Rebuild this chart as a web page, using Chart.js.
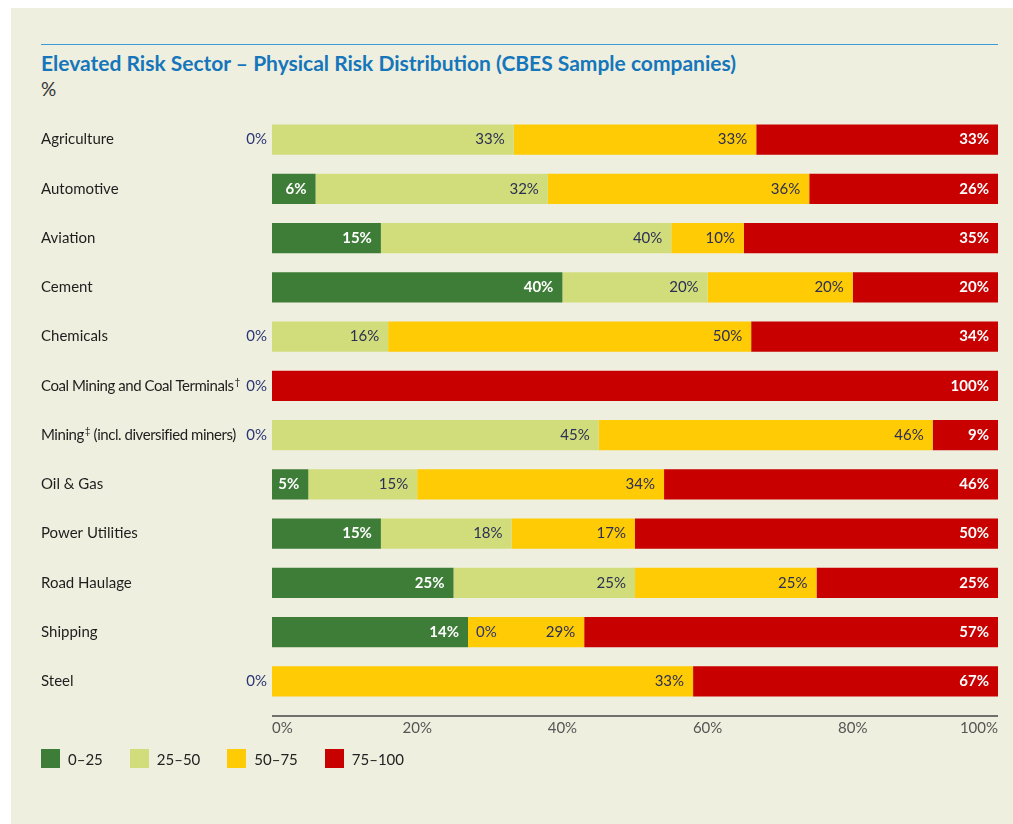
<!DOCTYPE html>
<html>
<head>
<meta charset="utf-8">
<script src="https://cdn.jsdelivr.net/npm/chart.js@4"></script>
<style>
  html, body { margin: 0; padding: 0; background: #ffffff; }
  body { width: 1013px; height: 824px; position: relative; overflow: hidden; font-family: Lato, "Open Sans", sans-serif; }
  #panel { position: absolute; left: 11px; top: 8px; right: 0; bottom: 0; background: #efefdf; }
  #rule { position: absolute; left: 41px; top: 44px; width: 957px; height: 0; border-top: 1.5px solid #3d9bd3; }
  #title { position: absolute; left: 41px; top: 50px; font-size: 21px; font-weight: bold; color: #1576bb; white-space: nowrap; }
  #unit { position: absolute; left: 41px; top: 77px; font-size: 19px; color: #333; }
  #chart { position: absolute; left: 0; top: 0; }
  #legend { position: absolute; left: 41px; top: 749px; display: flex; font-size: 15px; color: #222; }
  #legend .item { display: flex; align-items: center; margin-right: 27px; }
  #legend .box { width: 19px; height: 19px; margin-right: 8px; }
</style>
</head>
<body>
<div id="panel"></div>
<div id="rule"></div>
<div id="title">Elevated Risk Sector – Physical Risk Distribution (CBES Sample companies)</div>
<div id="unit">%</div>
<canvas id="chart" width="1013" height="824"></canvas>
<div id="legend"></div>
<script>
// sectors, top to bottom
var sectors = ['Agriculture', 'Automotive', 'Aviation', 'Cement', 'Chemicals',
  'Coal Mining and Coal Terminals', 'Mining (incl. diversified miners)',
  'Oil & Gas', 'Power Utilities', 'Road Haulage', 'Shipping', 'Steel'];
// footnote marks: [sector index, position in name, mark]
var footnotes = [[5, 30, '\u2020'], [6, 6, '\u2021']];

var bandNames = ['0\u201325', '25\u201350', '50\u201375', '75\u2013100'];
var bandColors = ['#3e7d38', '#d1dd7b', '#ffcb05', '#c80000'];

// segment widths as drawn (share of companies, %)
var share0to25   = [0, 6, 15, 40, 0, 0, 0, 5, 15, 25, 27, 0];
var share25to50  = [33.3, 32, 40, 20, 16, 0, 45, 15, 18, 25, 0, 0];
var share50to75  = [33.4, 36, 10, 20, 50, 0, 46, 34, 17, 25, 16, 58];
var share75to100 = [33.3, 26, 35, 20, 34, 100, 9, 46, 50, 25, 57, 42];

// labels printed on the segments
var printed0to25   = [0, 6, 15, 40, 0, 0, 0, 5, 15, 25, 14, 0];
var printed25to50  = [33, 32, 40, 20, 16, 0, 45, 15, 18, 25, 0, 0];
var printed50to75  = [33, 36, 10, 20, 50, 0, 46, 34, 17, 25, 29, 33];
var printed75to100 = [33, 26, 35, 20, 34, 100, 9, 46, 50, 25, 57, 67];

var xTicks = [0, 20, 40, 60, 80, 100];

var shares = [share0to25, share25to50, share50to75, share75to100];
var printed = [printed0to25, printed25to50, printed50to75, printed75to100];
var lightText = [true, false, false, true];

var FONT = 'Lato, "Open Sans", sans-serif';

// legend (html, under the axis)
var legendEl = document.getElementById('legend');
bandNames.forEach(function (name, i) {
  var item = document.createElement('div');
  item.className = 'item';
  item.innerHTML = '<span class="box" style="background:' + bandColors[i] + '"></span>' + name;
  legendEl.appendChild(item);
});

function drawSectorLabels(chart) {
  var ctx = chart.ctx;
  var ys = chart.scales.y;
  ctx.save();
  ctx.textBaseline = 'middle';
  ctx.textAlign = 'left';
  ctx.fillStyle = '#1e1e1e';
  sectors.forEach(function (name, j) {
    var y = ys.getPixelForValue(j);
    var note = footnotes.filter(function (f) { return f[0] === j; })[0];
    ctx.font = '15px ' + FONT;
    ctx.letterSpacing = note ? '-0.45px' : '0px';
    var x = ys.left;
    if (!note) {
      ctx.fillText(name, x, y);
      return;
    }
    var head = name.slice(0, note[1]);
    var tail = name.slice(note[1]);
    ctx.fillText(head, x, y);
    x += ctx.measureText(head).width;
    ctx.font = '10px ' + FONT;
    ctx.fillText(note[2], x + 1, y - 4);
    x += ctx.measureText(note[2]).width + 1;
    ctx.font = '15px ' + FONT;
    ctx.fillText(tail, x, y);
  });
  ctx.restore();
}

var segmentLabels = {
  id: 'segmentLabels',
  afterDatasetsDraw: function (chart) {
    var ctx = chart.ctx;
    drawSectorLabels(chart);
    ctx.save();
    ctx.textBaseline = 'middle';
    for (var j = 0; j < sectors.length; j++) {
      for (var i = 0; i < shares.length; i++) {
        var bar = chart.getDatasetMeta(i).data[j];
        var txt = printed[i][j] + '%';
        if (shares[i][j] > 0) {
          ctx.font = (lightText[i] ? 'bold ' : '') + '15px ' + FONT;
          ctx.fillStyle = lightText[i] ? '#ffffff' : '#2b2f55';
          ctx.textAlign = 'right';
          ctx.fillText(txt, bar.x - 9, bar.y);
        } else {
          ctx.font = '15px ' + FONT;
          ctx.fillStyle = '#2b3575';
          if (i === 0) {
            ctx.textAlign = 'right';
            ctx.fillText(txt, bar.base - 5, bar.y);
          } else if (shares[i - 1][j] > 0) {
            ctx.textAlign = 'left';
            ctx.fillText(txt, bar.base + 8, bar.y);
          }
        }
      }
    }
    // x axis line and tick labels (first and last pulled inward)
    var xs = chart.scales.x;
    var yAxis = chart.chartArea.bottom + 10;
    ctx.strokeStyle = '#444';
    ctx.lineWidth = 1.5;
    ctx.beginPath();
    ctx.moveTo(xs.left, yAxis);
    ctx.lineTo(xs.right, yAxis);
    ctx.stroke();
    ctx.font = '15px ' + FONT;
    ctx.fillStyle = '#555';
    xTicks.forEach(function (v, k) {
      ctx.textAlign = k === 0 ? 'left' : (k === xTicks.length - 1 ? 'right' : 'center');
      ctx.fillText(v + '%', xs.getPixelForValue(v), yAxis + 12);
    });
    ctx.restore();
  }
};

var ctx = document.getElementById('chart').getContext('2d');
new Chart(ctx, {
  type: 'bar',
  data: {
    labels: sectors,
    datasets: shares.map(function (s, i) {
      return {
        label: bandNames[i],
        data: s,
        backgroundColor: bandColors[i],
        borderWidth: 0,
        barPercentage: 0.61,
        categoryPercentage: 1
      };
    })
  },
  options: {
    indexAxis: 'y',
    responsive: false,
    animation: false,
    layout: { padding: { left: 41, right: 15, top: 115, bottom: 118 } },
    plugins: {
      tooltip: { enabled: false },
      legend: { display: false }
    },
    scales: {
      x: {
        stacked: true,
        min: 0,
        max: 100,
        grid: { display: false, drawTicks: false },
        border: { display: false },
        ticks: { display: false }
      },
      y: {
        stacked: true,
        afterFit: function (scale) { scale.width = 231; },
        grid: { display: false, drawTicks: false },
        border: { display: false },
        ticks: { display: false }
      }
    }
  },
  plugins: [segmentLabels]
});
</script>
</body>
</html>
